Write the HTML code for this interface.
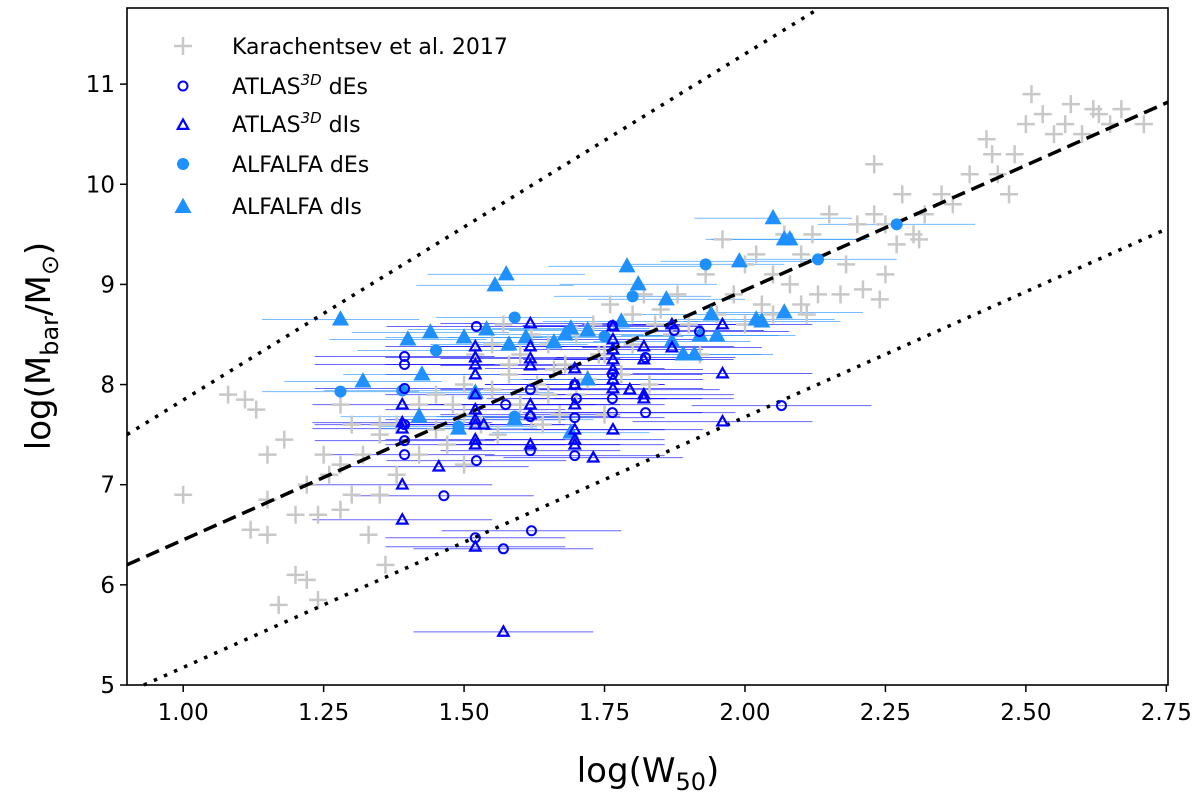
<!DOCTYPE html>
<html><head><meta charset="utf-8"><style>
html,body{margin:0;padding:0;background:#fff}
svg{display:block;font-family:"DejaVu Sans","Liberation Sans",sans-serif}
</style></head><body>
<svg id="chart" width="1200" height="798" viewBox="0 0 1200 798" xmlns="http://www.w3.org/2000/svg">
<g id="errs"></g>
<g id="kar"></g>
<g id="lines"></g>
<g id="pts"></g>
<rect x="127" y="8" width="1041" height="677" fill="none" stroke="#000" stroke-width="1.6"/>
<g id="axes"></g>
<g id="legend"></g>
<text x="648" y="782" font-size="34" text-anchor="middle">log(W<tspan font-size="24" dy="8">50</tspan><tspan dy="-8">)</tspan></text>
<text transform="translate(50,346) rotate(-90)" font-size="34" text-anchor="middle">log(M<tspan font-size="24" dy="8">bar</tspan><tspan dy="-8">/M</tspan><tspan font-size="24" dy="8">⊙</tspan><tspan dy="-8">)</tspan></text>
</svg>
<script>
const xTicks=[1.00,1.25,1.50,1.75,2.00,2.25,2.50,2.75];
const xTickLabels=["1.00","1.25","1.50","1.75","2.00","2.25","2.50","2.75"];
const yTicks=[5,6,7,8,9,10,11];
const yTickLabels=["5","6","7","8","9","10","11"];
const karX=[1.00,1.11,1.13,1.12,1.15,1.15,1.15,1.18,1.17,1.2,1.22,1.2,1.22,1.25,1.24,1.24,1.26,1.28,1.3,1.28,1.32,1.33,1.35,1.36,1.35,1.35,1.38,1.38,1.3,1.28,1.42,1.42,1.45,1.45,1.47,1.5,1.5,1.5,1.52,1.53,1.55,1.55,1.56,1.57,1.58,1.6,1.6,1.62,1.62,1.63,1.65,1.65,1.67,1.68,1.7,1.7,1.72,1.73,1.75,1.75,1.76,1.78,1.8,1.8,1.82,1.83,1.84,1.85,1.87,1.88,1.9,1.92,1.93,1.95,1.96,1.98,2.0,2.0,2.02,2.03,2.05,2.07,2.08,2.1,2.1,2.12,2.13,2.15,2.17,2.18,2.2,2.21,2.23,2.23,2.25,2.24,2.25,2.27,2.28,2.3,2.31,2.32,2.35,2.37,2.4,2.43,2.44,2.45,2.47,2.48,2.5,2.51,2.53,2.55,2.57,2.58,2.6,2.62,2.63,2.65,2.67,2.71,1.08,2.11,2.05,1.58,1.66,1.74,1.48,1.64];
const karY=[6.9,7.85,7.75,6.55,6.5,6.85,7.3,7.45,5.8,6.1,6.05,6.7,7.0,7.3,6.7,5.85,7.1,7.2,6.9,6.75,7.3,6.5,6.9,6.2,7.5,7.6,7.1,7.6,7.6,7.8,7.3,7.8,7.9,7.55,7.4,7.2,7.7,8.0,8.3,7.6,8.4,7.95,7.5,8.6,8.1,7.8,8.3,7.65,8.5,8.0,7.9,8.4,7.7,8.2,8.5,7.9,8.05,8.6,8.3,7.7,8.8,8.1,8.7,8.4,8.9,8.0,8.6,8.75,8.5,8.9,8.6,8.3,9.1,8.7,9.45,8.9,9.2,8.6,9.3,8.8,9.1,9.5,9.0,8.8,9.3,9.5,8.9,9.7,8.9,9.2,9.6,8.95,10.2,9.7,9.6,8.85,9.1,9.4,9.9,9.5,9.45,9.7,9.9,9.8,10.1,10.45,10.3,10.1,9.9,10.3,10.6,10.9,10.7,10.5,10.6,10.8,10.5,10.75,10.7,10.6,10.75,10.6,7.9,8.7,8.7,8.2,8.15,8.3,7.8,7.6];
const atlasDEsX=[1.394,1.394,1.394,1.394,1.394,1.394,1.464,1.522,1.522,1.52,1.574,1.57,1.618,1.618,1.618,1.62,1.697,1.697,1.697,1.70,1.764,1.764,1.764,1.764,1.823,1.823,1.874,1.919,2.065];
const atlasDEsY=[8.28,8.20,7.96,7.60,7.44,7.30,6.89,8.58,7.24,6.47,7.80,6.36,7.95,7.68,7.34,6.54,8.00,7.67,7.29,7.86,8.59,8.10,7.86,7.72,8.27,7.72,8.54,8.53,7.79];
const atlasDIsX=[1.39,1.39,1.39,1.39,1.39,1.455,1.52,1.52,1.52,1.52,1.52,1.52,1.52,1.52,1.52,1.52,1.52,1.535,1.618,1.618,1.618,1.618,1.618,1.618,1.618,1.697,1.697,1.697,1.697,1.697,1.697,1.57,1.73,1.765,1.765,1.765,1.765,1.765,1.765,1.765,1.765,1.795,1.82,1.82,1.82,1.82,1.87,1.87,1.96,1.96,1.96];
const atlasDIsY=[7.8,7.62,7.56,7.0,6.65,7.18,8.38,8.27,8.2,8.1,7.9,7.75,7.65,7.6,7.45,7.4,6.38,7.6,8.61,8.38,8.26,8.19,7.8,7.7,7.4,8.16,8.0,7.8,7.55,7.45,7.4,5.53,7.27,8.58,8.45,8.35,8.25,8.15,8.05,7.96,7.55,7.95,8.38,8.25,7.9,7.86,8.6,8.37,8.6,8.11,7.63];
const alfaDEsX=[1.28,1.39,1.45,1.49,1.59,1.59,1.75,1.80,1.93,2.13,2.27];
const alfaDEsY=[7.93,7.94,8.34,7.58,8.67,7.68,8.48,8.88,9.2,9.25,9.6];
const alfaDIsX=[1.28,1.32,1.40,1.42,1.44,1.425,1.49,1.50,1.52,1.555,1.575,1.54,1.58,1.59,1.61,1.66,1.68,1.69,1.69,1.72,1.72,1.78,1.79,1.81,1.86,1.87,1.89,1.92,1.94,1.95,1.99,1.91,2.02,2.05,2.07,2.08,2.07,2.03];
const alfaDIsY=[8.65,8.03,8.45,7.68,8.52,8.1,7.56,8.47,7.92,8.99,9.1,8.55,8.4,7.65,8.47,8.42,8.5,8.56,7.52,8.05,8.54,8.63,9.18,9.0,8.85,8.43,8.3,8.49,8.7,8.49,9.23,8.3,8.65,9.66,9.45,9.45,8.72,8.63];
const dashedLine=[[0.9,6.2],[2.753,10.82]];
const dottedUpper=[[0.9,7.5],[2.13,11.75]];
const dottedLower=[[0.93,5.0],[2.753,9.56]];

const NS="http://www.w3.org/2000/svg";
const X0=127,X1=1168,Y0=685,Y1=8,xmin=0.9,xmax=2.753,ymin=5,ymax=11.76;
const sx=v=>X0+(v-xmin)/(xmax-xmin)*(X1-X0);
const sy=v=>Y0-(v-ymin)/(ymax-ymin)*(Y0-Y1);
function mk(tag,attrs,parent){const e=document.createElementNS(NS,tag);for(const k in attrs)e.setAttribute(k,attrs[k]);parent.appendChild(e);return e;}
const gE=document.getElementById('errs'),gK=document.getElementById('kar'),gL=document.getElementById('lines'),gP=document.getElementById('pts'),gA=document.getElementById('axes'),gLeg=document.getElementById('legend');
const atlasCol="#0000ff",alfaCol="#1e90ff";
function cross(cx,cy,parent){const g=mk('g',{stroke:'#c8c8c8','stroke-width':2.5},parent);


mk('line',{x1:cx-9,y1:cy,x2:cx+9,y2:cy},g);mk('line',{x1:cx,y1:cy-9,x2:cx,y2:cy+9},g);}
function tri(cx,cy,s,fill,stroke,parent){const p=mk('polygon',{points:`${cx},${cy-s} ${cx-s*0.95},${cy+s*0.7} ${cx+s*0.95},${cy+s*0.7}`,fill:fill,stroke:stroke,'stroke-width':2.2},parent);return p;}
for(let i=0;i<karX.length;i++)cross(sx(karX[i]),sy(karY[i]),gK);
function err(xs,ys,half,col){for(let i=0;i<xs.length;i++){const l=mk('line',{x1:sx(Math.max(xmin,xs[i]-half)),x2:sx(xs[i]+half),y1:sy(ys[i]),y2:sy(ys[i]),stroke:col,'stroke-width':1,opacity:0.6},gE);

}}
err(atlasDEsX,atlasDEsY,0.16,atlasCol);err(atlasDIsX,atlasDIsY,0.16,atlasCol);
err(alfaDEsX,alfaDEsY,0.14,alfaCol);err(alfaDIsX,alfaDIsY,0.14,alfaCol);
function line(pts,dash,parent,name){const l=mk('line',{x1:sx(pts[0][0]),y1:sy(pts[0][1]),x2:sx(pts[1][0]),y2:sy(pts[1][1]),stroke:'#000','stroke-width':3.5,'stroke-dasharray':dash==='d'?'14,7':'3.5,7.5'},parent);

}
line(dashedLine,'d',gL,'best-fit-line');line(dottedUpper,'o',gL,'upper-bound-line');line(dottedLower,'o',gL,'lower-bound-line');
for(let i=0;i<alfaDIsX.length;i++){const p=tri(sx(alfaDIsX[i]),sy(alfaDIsY[i]),7,alfaCol,alfaCol,gP);

}
for(let i=0;i<alfaDEsX.length;i++){const c=mk('circle',{cx:sx(alfaDEsX[i]),cy:sy(alfaDEsY[i]),r:6,fill:alfaCol},gP);

}
for(let i=0;i<atlasDIsX.length;i++){const p=tri(sx(atlasDIsX[i]),sy(atlasDIsY[i]),5.5,'none',atlasCol,gP);

}
for(let i=0;i<atlasDEsX.length;i++){const c=mk('circle',{cx:sx(atlasDEsX[i]),cy:sy(atlasDEsY[i]),r:4.5,fill:'none',stroke:atlasCol,'stroke-width':2},gP);

}
xTicks.forEach((v,i)=>{const x=sx(v);mk('line',{x1:x,x2:x,y1:Y0,y2:Y0+7,stroke:'#000','stroke-width':1.5},gA);
const t=mk('text',{x:x,y:Y0+35,'font-size':23,'text-anchor':'middle'},gA);t.textContent=xTickLabels[i];

});
yTicks.forEach((v,i)=>{const y=sy(v);mk('line',{x1:X0-7,x2:X0,y1:y,y2:y,stroke:'#000','stroke-width':1.5},gA);
const t=mk('text',{x:X0-12,y:y+8,'font-size':23,'text-anchor':'end'},gA);t.textContent=yTickLabels[i];

});
const legY=[46,86,124,164,206];
cross(183,legY[0],gLeg);
mk('circle',{cx:183,cy:legY[1],r:4.5,fill:'none',stroke:atlasCol,'stroke-width':2},gLeg);
tri(183,legY[2]+1,5.5,'none',atlasCol,gLeg);
mk('circle',{cx:183,cy:legY[3],r:6,fill:alfaCol},gLeg);
tri(183,legY[4]+1,7,alfaCol,alfaCol,gLeg);
const labs=['Karachentsev et al. 2017','ATLAS<tspan font-size="15" dy="-9" font-style="italic">3D</tspan><tspan dy="9"> dEs</tspan>','ATLAS<tspan font-size="15" dy="-9" font-style="italic">3D</tspan><tspan dy="9"> dIs</tspan>','ALFALFA dEs','ALFALFA dIs'];
labs.forEach((s,i)=>{const t=mk('text',{x:232,y:legY[i]+8,'font-size':22},gLeg);t.innerHTML=s;

});
</script>
</body></html>
